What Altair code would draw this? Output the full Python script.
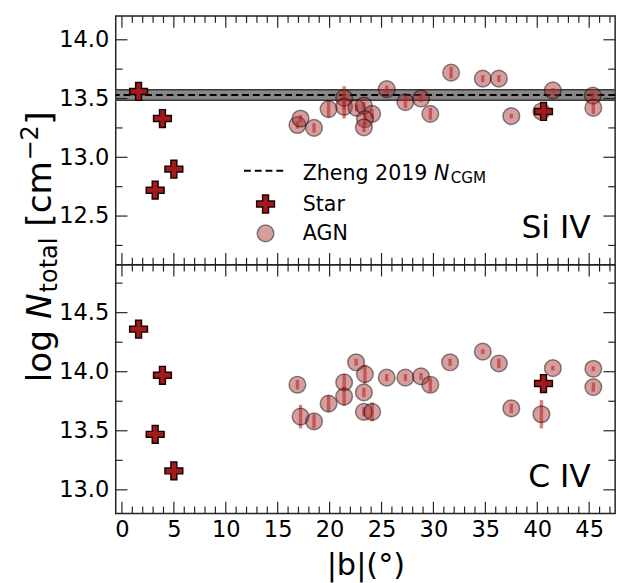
import altair as alt
import pandas as pd

# ---------------- data ----------------
star_b = [1.6, 3.2, 3.9, 5.0, 40.6]
si_star_N = [13.56, 12.72, 13.33, 12.90, 13.39]
c_star_N = [14.36, 13.47, 13.97, 13.16, 13.90]

si_agn_b = [16.9, 17.2, 18.5, 19.9, 21.4, 21.4, 22.6, 23.3, 24.1, 23.4, 23.3, 25.5,
            27.3, 28.8, 29.7, 31.7, 34.75, 36.3, 37.5, 40.4, 41.5, 45.35, 45.4]
si_agn_N = [13.275, 13.33, 13.25, 13.41, 13.505, 13.43, 13.42, 13.44, 13.37, 13.325, 13.255, 13.58,
            13.47, 13.50, 13.37, 13.72, 13.67, 13.67, 13.35, 13.39, 13.57, 13.525, 13.42]
si_agn_e = [0.03, 0.03, 0.04, 0.07, 0.10, 0.10, 0.03, 0.03, 0.04, 0.05, 0.04, 0.03,
            0.05, 0.03, 0.05, 0.05, 0.03, 0.03, 0.02, 0.03, 0.02, 0.03, 0.05]

c_agn_b = [16.9, 17.2, 18.5, 19.9, 21.4, 21.4, 22.55, 23.4, 23.3, 23.3, 24.1, 25.5,
           27.3, 28.8, 29.7, 31.6, 34.75, 36.3, 37.5, 40.4, 41.5, 45.4, 45.4]
c_agn_N = [13.89, 13.62, 13.58, 13.73, 13.91, 13.79, 14.08, 13.98, 13.825, 13.66, 13.66, 13.95,
           13.95, 13.96, 13.89, 14.08, 14.17, 14.07, 13.69, 13.64, 14.03, 14.025, 13.87]
c_agn_e = [0.04, 0.10, 0.06, 0.07, 0.07, 0.08, 0.03, 0.08, 0.04, 0.04, 0.08, 0.03,
           0.03, 0.03, 0.06, 0.03, 0.02, 0.04, 0.04, 0.12, 0.02, 0.02, 0.04]

zheng_N = 13.53
zheng_err = 0.045

x_major = [0, 5, 10, 15, 20, 25, 30, 35, 40, 45]
x_minor = [v for v in range(0, 48) if v % 5 != 0]
si_y_major = [12.5, 13.0, 13.5, 14.0]
si_y_minor = [12.25, 12.75, 13.25, 13.75]
c_y_major = [13.0, 13.5, 14.0, 14.5]
c_y_minor = [13.25, 13.75, 14.25, 14.75]

x_domain = [-0.6, 47.5]
si_y_domain = [12.086, 14.2025]
c_y_domain = [12.80, 14.906]

# ---------------- layout / style ----------------
W, H = 510, 254
MAJ, MIN = 12, 7
TICK_COLOR = "#222222"
CROSS = "M-0.33,-1L0.33,-1L0.33,-0.33L1,-0.33L1,0.33L0.33,0.33L0.33,1L-0.33,1L-0.33,0.33L-1,0.33L-1,-0.33L-0.33,-0.33Z"
AGN_FILL = "#a52a2a"
STAR_FILL = "#a31a1a"
ERR_COLOR = "#c62828"
LAB = 23

one = pd.DataFrame({"k": [0]})


def txt(x, y, s, size, **kw):
    return alt.Chart(one).mark_text(fontSize=size, color="black", **kw).encode(
        x=alt.value(x), y=alt.value(y), text=alt.value(s))


def panel(agn_b, agn_N, agn_e, st_N, ydom, ymaj, ymin, label, bottom, zheng):
    xs = alt.Scale(domain=x_domain, nice=False, zero=False)
    ys = alt.Scale(domain=ydom, nice=False, zero=False)
    if bottom:
        xaxis = alt.Axis(values=x_major, format="d", labelFontSize=LAB, ticks=False, tickSize=0,
                         domain=False, grid=False, title="|b|(°)", titleFontSize=31,
                         titleFontWeight="normal", labelPadding=6, titlePadding=9,
                         labelColor="black", titleColor="black")
    else:
        xaxis = None
    yaxis = alt.Axis(values=ymaj, format=".1f", labelFontSize=LAB, ticks=False, tickSize=0,
                     domain=False, grid=False, title="", labelPadding=7, labelColor="black")

    agn = pd.DataFrame({"b": agn_b, "N": agn_N, "e": agn_e})
    agn["lo"] = agn["N"] - agn["e"]
    agn["hi"] = agn["N"] + agn["e"]
    stars = pd.DataFrame({"b": star_b, "N": st_N})

    layers = []
    if zheng:
        band = pd.DataFrame({"lo": [zheng_N - zheng_err], "hi": [zheng_N + zheng_err], "z": [zheng_N]})
        layers.append(alt.Chart(band).mark_rect(fill="#888888", stroke="#3a3a3a", strokeWidth=1.4).encode(
            x=alt.value(0), x2=alt.value(W),
            y=alt.Y("lo:Q", scale=ys, axis=yaxis), y2="hi:Q"))
        layers.append(alt.Chart(band).mark_rule(color="black", strokeDash=[7, 4], strokeWidth=2.2).encode(
            y=alt.Y("z:Q", scale=ys, axis=yaxis)))

    layers.append(alt.Chart(agn).mark_rule(color=ERR_COLOR, opacity=0.6, strokeWidth=3.5).encode(
        x=alt.X("b:Q", scale=xs, axis=xaxis),
        y=alt.Y("lo:Q", scale=ys, axis=yaxis), y2="hi:Q"))
    layers.append(alt.Chart(agn).mark_point(shape="circle", filled=True, size=290, fill=AGN_FILL,
                                            fillOpacity=0.45, stroke="black", strokeOpacity=0.45,
                                            strokeWidth=1.5, opacity=1).encode(
        x=alt.X("b:Q", scale=xs, axis=xaxis),
        y=alt.Y("N:Q", scale=ys, axis=yaxis)))
    layers.append(alt.Chart(stars).mark_point(shape=CROSS, filled=True, size=330, fill=STAR_FILL,
                                              stroke="#1a0000", strokeWidth=1.5, opacity=1).encode(
        x=alt.X("b:Q", scale=xs, axis=xaxis),
        y=alt.Y("N:Q", scale=ys, axis=yaxis)))

    # ticks pointing inward on all four sides
    for vals, L in ((x_major, MAJ), (x_minor, MIN)):
        d = pd.DataFrame({"b": vals})
        for y0, y1 in ((H, H - L), (0, L)):
            layers.append(alt.Chart(d).mark_rule(color=TICK_COLOR, strokeWidth=1.2).encode(
                x=alt.X("b:Q", scale=xs, axis=xaxis), y=alt.value(y0), y2=alt.value(y1)))
    for vals, L in ((ymaj, MAJ), (ymin, MIN)):
        d = pd.DataFrame({"N": vals})
        for x0, x1 in ((0, L), (W, W - L)):
            layers.append(alt.Chart(d).mark_rule(color=TICK_COLOR, strokeWidth=1.2).encode(
                y=alt.Y("N:Q", scale=ys, axis=yaxis), x=alt.value(x0), x2=alt.value(x1)))

    layers.append(txt(485, 227, label, 32, align="right", baseline="alphabetic"))

    if zheng:
        # legend
        layers.append(alt.Chart(one).mark_rule(color="black", strokeDash=[7, 4], strokeWidth=2.2).encode(
            x=alt.value(131), x2=alt.value(174), y=alt.value(158)))
        layers.append(txt(191, 167, "Zheng 2019", 21, align="left", baseline="alphabetic"))
        layers.append(txt(325, 167, "N", 21, align="left", baseline="alphabetic", fontStyle="italic"))
        layers.append(txt(342, 171, "CGM", 15.5, align="left", baseline="alphabetic"))
        layers.append(alt.Chart(one).mark_point(shape=CROSS, filled=True, size=330, fill=STAR_FILL,
                                                stroke="#1a0000", strokeWidth=1.5, opacity=1).encode(
            x=alt.value(153), y=alt.value(192)))
        layers.append(txt(191, 199, "Star", 21, align="left", baseline="alphabetic"))
        layers.append(alt.Chart(one).mark_point(shape="circle", filled=True, size=290, fill=AGN_FILL,
                                                fillOpacity=0.45, stroke="black", strokeOpacity=0.45,
                                                strokeWidth=1.5, opacity=1).encode(
            x=alt.value(153), y=alt.value(222)))
        layers.append(txt(191, 229, "AGN", 21, align="left", baseline="alphabetic"))

        # y-axis title spanning both panels (rotated, built from pieces)
        xb, y0 = -66, 374
        rot = dict(angle=270, align="left", baseline="alphabetic")
        layers.append(txt(xb, y0, "log", 35, **rot))
        layers.append(txt(xb, y0 - 64.5, "N", 35, fontStyle="italic", **rot))
        layers.append(txt(xb + 6, y0 - 91.7, "total", 24.5, **rot))
        layers.append(txt(xb, y0 - 158.8, "[cm", 35, **rot))
        layers.append(txt(xb - 13.5, y0 - 226.3, "\u22122", 24.5, **rot))
        layers.append(txt(xb, y0 - 263.0, "]", 35, **rot))

    return alt.layer(*layers).properties(width=W, height=H)


top = panel(si_agn_b, si_agn_N, si_agn_e, si_star_N, si_y_domain, si_y_major, si_y_minor,
            "Si IV", False, True)
bot = panel(c_agn_b, c_agn_N, c_agn_e, c_star_N, c_y_domain, c_y_major, c_y_minor,
            "C IV", True, False)

chart = alt.vconcat(top, bot, spacing=0, bounds="flush").properties(
    padding={"left": 9, "top": 0, "right": 5, "bottom": 2}
).configure(font="DejaVu Sans").configure_view(stroke="#222222", strokeWidth=1.5)

chart.save("out.html", embed_options={"renderer": "svg", "actions": False})
